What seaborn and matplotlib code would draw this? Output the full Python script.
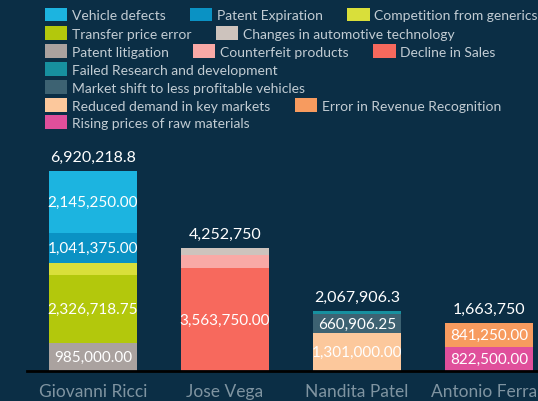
import pandas as pd
import matplotlib
matplotlib.use("Agg")
import matplotlib.pyplot as plt
import seaborn as sns
from matplotlib.patches import Patch

# данные
sellers = ["Giovanni Ricci"] * 5 + ["Jose Vega"] * 3 + ["Nandita Patel"] * 3 + ["Antonio Ferrari"] * 2
causes = [
    "Vehicle defects", "Patent Expiration", "Competition from generics",
    "Transfer price error", "Patent litigation",
    "Changes in automotive technology", "Counterfeit products", "Decline in Sales",
    "Failed Research and development", "Market shift to less profitable vehicles",
    "Reduced demand in key markets",
    "Error in Revenue Recognition", "Rising prices of raw materials",
]
amounts = [
    2145250.00, 1041375.00, 421875.05, 2326718.75, 985000.00,
    239000.00, 450000.00, 3563750.00,
    106000.05, 660906.25, 1301000.00,
    841250.00, 822500.00,
]

cause_order = [
    "Vehicle defects", "Patent Expiration", "Competition from generics",
    "Transfer price error", "Changes in automotive technology",
    "Patent litigation", "Counterfeit products", "Decline in Sales",
    "Failed Research and development",
    "Market shift to less profitable vehicles",
    "Reduced demand in key markets", "Error in Revenue Recognition",
    "Rising prices of raw materials",
]
cause_colors = [
    "#1cb4e0", "#0a92c4", "#d9df3a", "#b3c80c", "#cdc3bd",
    "#aaa29f", "#f9a9a6", "#f7695d", "#17909f", "#3d6272",
    "#fcc89c", "#f79b5f", "#e04f9b",
]
legend_rows = [3, 2, 3, 1, 1, 2, 1]

bg = "#0b2e45"
df = pd.DataFrame({"seller": sellers, "cause": causes, "amount": amounts})
totals = df.groupby("seller", sort=False)["amount"].sum()

sns.set_style("white")
plt.rcParams["font.family"] = ["Lato", "DejaVu Sans"]

fig = plt.figure(figsize=(5.38, 4.02), dpi=100, facecolor=bg)
ax = fig.add_axes([27 / 538, 30 / 402, 528 / 538, 232 / 402], facecolor=bg)

sns.histplot(
    data=df, x="seller", hue="cause", weights="amount",
    hue_order=cause_order, palette=cause_colors,
    multiple="stack", discrete=True, shrink=0.667,
    alpha=1, linewidth=0, edgecolor="none", legend=False, ax=ax
)

ax.set_xlim(-0.5, 3.5)
ax.set_ylim(0, 6920218.8 * 232 / 200)

# подписи сегментов
for p in ax.patches:
    h = p.get_height()
    if h >= 500000:
        ax.text(p.get_x() + p.get_width() / 2, p.get_y() + h / 2,
                f"{h:,.2f}", ha="center", va="center",
                color="white", fontsize=11)

# итоги над столбцами
for i, t in enumerate(totals.values):
    s = f"{round(t, 1):,}"
    if s.endswith(".0"):
        s = s[:-2]
    ax.annotate(s, (i, t), xytext=(0, 10), textcoords="offset points",
                ha="center", va="center", color="white", fontsize=11.5)

for side in ["top", "left", "right"]:
    ax.spines[side].set_visible(False)
ax.spines["bottom"].set_color("black")
ax.spines["bottom"].set_linewidth(2)
ax.set_yticks([])
ax.set_xlabel("")
ax.set_ylabel("")
ax.tick_params(axis="x", length=0, pad=9, labelsize=12.5, labelcolor="#7f94a1")

# легенда построчно
handles = [Patch(facecolor=c, edgecolor="none") for c in cause_colors]
row_y = [15.5, 34, 52, 70, 88, 106, 123]
k = 0
for n, yc in zip(legend_rows, row_y):
    leg = fig.legend(
        handles[k:k + n], cause_order[k:k + n], ncol=n,
        loc="center left", bbox_to_anchor=(45 / 538, 1 - yc / 402),
        frameon=False, fontsize=10, handlelength=1.6, handleheight=1.1,
        handletextpad=0.35, columnspacing=1.75, borderpad=0, borderaxespad=0,
        labelcolor="#c2ccd3"
    )
    k += n

fig.savefig("out.png", dpi=100, facecolor=bg)
